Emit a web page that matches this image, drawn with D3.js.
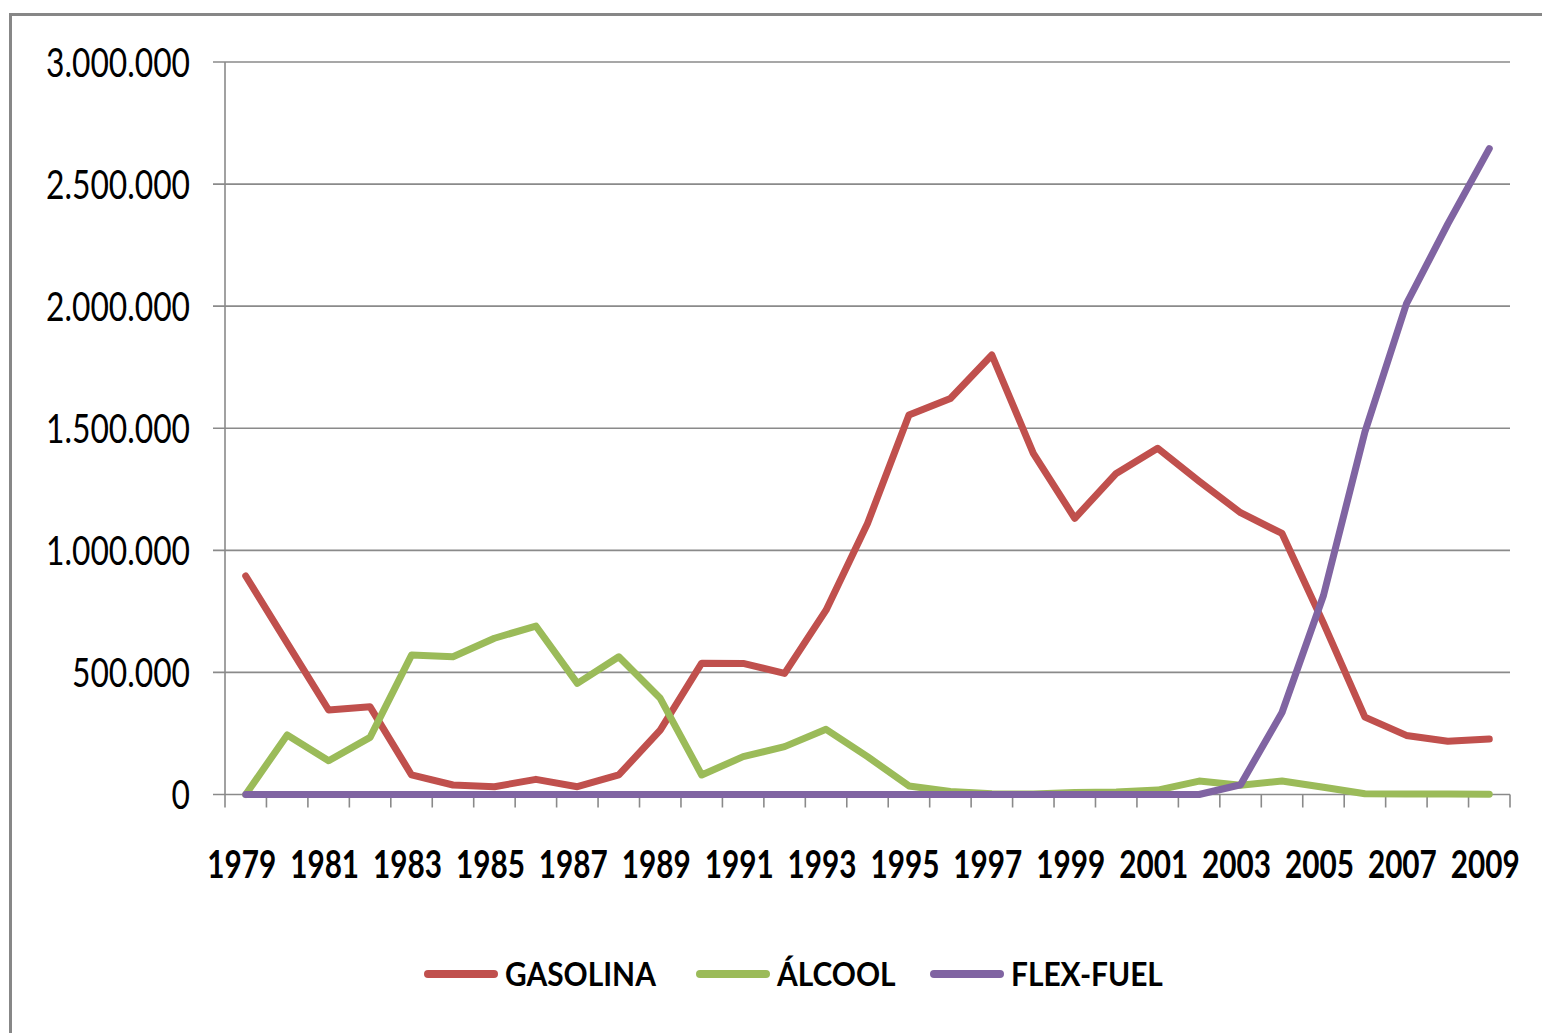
<!DOCTYPE html>
<html>
<head>
<meta charset="utf-8">
<script src="https://cdn.jsdelivr.net/npm/d3@7"></script>
<style>
  body { margin: 0; background: #fff; }
  svg { display: block; }
  text { font-family: Lato, "Open Sans", sans-serif; fill: #000; }
</style>
</head>
<body>
<svg width="1542" height="1033"></svg>
<script>
var years = [1979, 1980, 1981, 1982, 1983, 1984, 1985, 1986, 1987, 1988, 1989, 1990,
             1991, 1992, 1993, 1994, 1995, 1996, 1997, 1998, 1999, 2000, 2001, 2002,
             2003, 2004, 2005, 2006, 2007, 2008, 2009];

var gasolina = [895000, 620000, 346000, 359000, 80000, 39000, 32000, 62000, 32000, 80000,
                264000, 538000, 537000, 496000, 755000, 1110000, 1554000, 1622000, 1800000,
                1397000, 1131000, 1315000, 1418000, 1283000, 1154000, 1069000, 702000,
                317000, 242000, 218000, 227000];

var alcool = [0, 244000, 138000, 234000, 571000, 564000, 640000, 690000, 455000, 564000,
              394000, 80000, 155000, 196000, 267000, 155000, 35000, 12000, 3000, 2000,
              8000, 10000, 18000, 55000, 38000, 55000, 30000, 3000, 2000, 2000, 1000];

var flex = [0, 0, 0, 0, 0, 0, 0, 0, 0, 0, 0, 0, 0, 0, 0, 0, 0, 0, 0, 0, 0, 0, 0, 0,
            40000, 336000, 815000, 1485000, 2009000, 2337000, 2645000];

var seriesNames = ["GASOLINA", "ÁLCOOL", "FLEX-FUEL"];
var seriesColors = ["#c0504d", "#9bbb59", "#8064a2"];
var yTicks = [0, 500000, 1000000, 1500000, 2000000, 2500000, 3000000];

var series = [gasolina, alcool, flex];

var svg = d3.select("svg"),
    plotLeft = 225, plotRight = 1510, plotTop = 62, plotBottom = 794.5;

var ptBR = d3.formatLocale({decimal: ",", thousands: ".", grouping: [3], currency: ["R$", ""]});
var fmt = ptBR.format(",d");

var x = d3.scaleBand().domain(years).range([plotLeft, plotRight]);
var y = d3.scaleLinear().domain([0, 3000000]).range([plotBottom, plotTop]);
var cx = function(d) { return x(d) + x.bandwidth() / 2; };

// outer frame (runs off the right/bottom edge)
svg.append("rect")
    .attr("x", 10.5).attr("y", 14.5)
    .attr("width", 1600).attr("height", 1100)
    .attr("fill", "none")
    .attr("stroke", "#878787")
    .attr("stroke-width", 3);

// horizontal gridlines, with the little tick stub on the left
svg.append("g")
  .selectAll("line").data(yTicks).enter().append("line")
    .attr("x1", plotLeft - 12).attr("x2", plotRight)
    .attr("y1", function(d) { return y(d); })
    .attr("y2", function(d) { return y(d); })
    .attr("stroke", "#8a8a8a")
    .attr("stroke-width", 1.6);

// y axis line
svg.append("line")
    .attr("x1", plotLeft).attr("x2", plotLeft)
    .attr("y1", plotTop).attr("y2", plotBottom + 13)
    .attr("stroke", "#8a8a8a")
    .attr("stroke-width", 1.6);

// x tick marks at band edges
var edges = years.map(function(d) { return x(d); }).concat([plotRight]);
svg.append("g")
  .selectAll("line").data(edges.slice(1)).enter().append("line")
    .attr("x1", function(d) { return d; }).attr("x2", function(d) { return d; })
    .attr("y1", plotBottom).attr("y2", plotBottom + 13)
    .attr("stroke", "#8a8a8a")
    .attr("stroke-width", 1.6);

// y labels
var yl = svg.append("g").selectAll("text").data(yTicks).enter().append("text")
    .attr("text-anchor", "end")
    .style("font-size", "40px")
    .text(function(d) { return fmt(d); });
var ySx = 144 / yl.filter(function(d) { return d === 3000000; }).node().getComputedTextLength();
yl.attr("transform", function(d) { return "translate(190," + (y(d) + 14.5) + ") scale(" + ySx + ",1)"; });

// x labels every other year
var xl = svg.append("g").selectAll("text")
    .data(years.filter(function(d, i) { return i % 2 === 0; }))
  .enter().append("text")
    .attr("text-anchor", "middle")
    .style("font-size", "39px")
    .style("font-weight", "bold")
    .text(function(d) { return d; });
var xSx = 69 / xl.node().getComputedTextLength();
xl.attr("transform", function(d) { return "translate(" + (cx(d) - 4) + ",878) scale(" + xSx + ",1)"; });

// lines
var line = d3.line()
    .x(function(d, i) { return cx(years[i]); })
    .y(function(d) { return y(d); });

svg.append("g").selectAll("path").data(series).enter().append("path")
    .attr("d", line)
    .attr("fill", "none")
    .attr("stroke", function(d, i) { return seriesColors[i]; })
    .attr("stroke-width", 7)
    .attr("stroke-linejoin", "round")
    .attr("stroke-linecap", "round");

// legend
var legX = [428, 700, 934];
var leg = svg.append("g").selectAll("g").data(seriesNames).enter().append("g")
    .attr("transform", function(d, i) { return "translate(" + legX[i] + ",974)"; });

leg.append("line")
    .attr("x1", 0).attr("x2", 66)
    .attr("stroke", function(d, i) { return seriesColors[i]; })
    .attr("stroke-width", 8)
    .attr("stroke-linecap", "round");

var lt = leg.append("text")
    .style("font-size", "33px")
    .style("font-weight", "bold")
    .text(function(d) { return d; });
var lSx = 151 / lt.node().getComputedTextLength();
lt.attr("transform", "translate(77,12) scale(" + lSx + ",1)");
</script>
</body>
</html>
